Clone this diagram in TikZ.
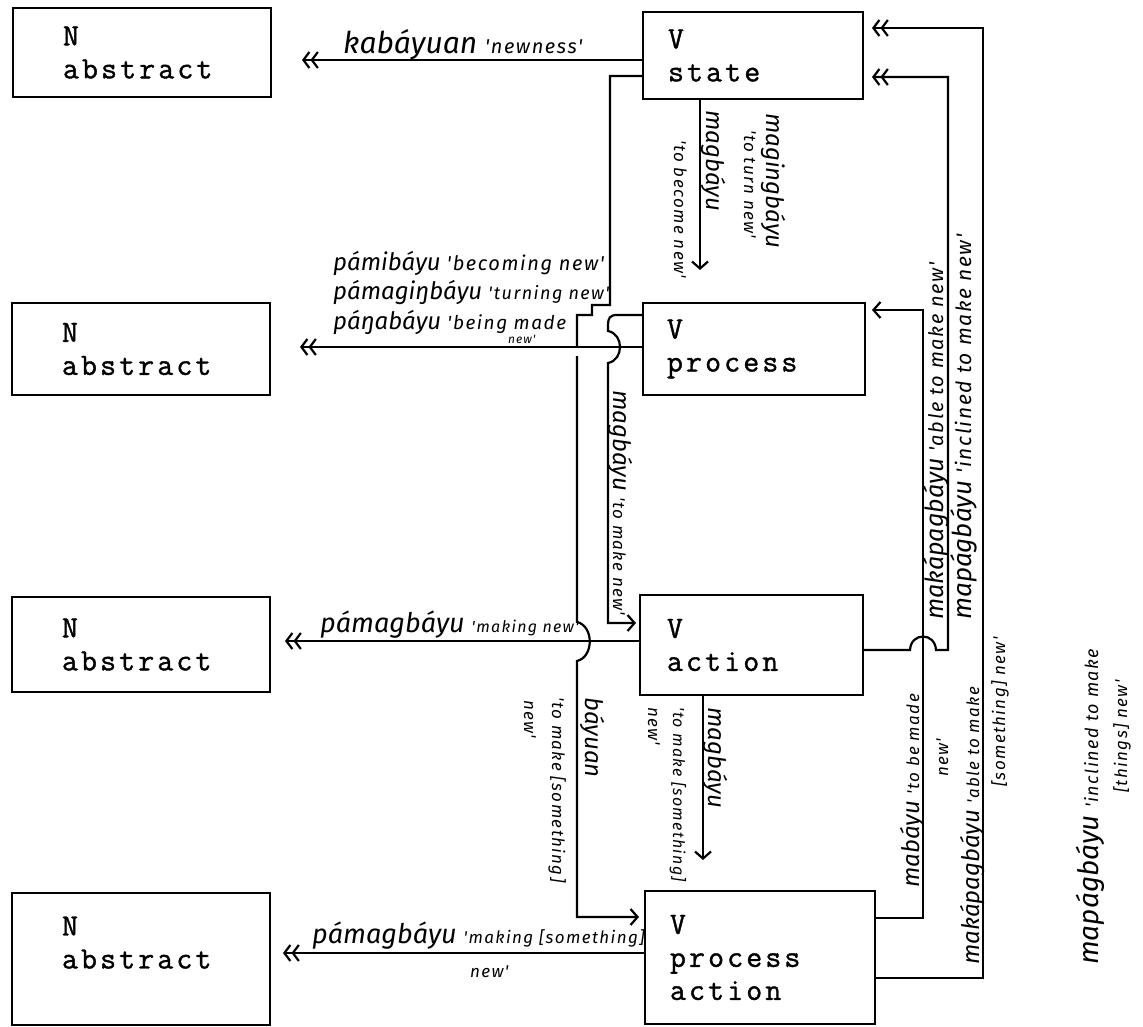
\documentclass[tikz,border=0pt]{standalone}
\usepackage{fontspec}
\usetikzlibrary{arrows.meta}
\newfontfamily\boxfont[LetterSpace=10,FakeBold=1.2]{Latin Modern Mono}
\newfontfamily\handfont{Fira Sans}
\newfontfamily\glossfont[LetterSpace=8]{Fira Sans}
\newcommand{\glosstxt}[2][17]{{\glossfont\itshape\fontsize{#1}{20}\selectfont #2}}

\begin{document}
\begin{tikzpicture}[x=1pt, y=-1pt,
    box/.style={draw, line width=2.2pt, align=left, inner sep=0pt, font=\boxfont\fontsize{31}{33}\selectfont},
    nbox/.style={box, minimum width=258pt, text width=158pt},
    conn/.style={line width=2.2pt},
    dbl/.style={-{Straight Barb[length=6pt,width=16pt] Straight Barb[length=6pt,width=16pt]}},
    sgl/.style={-{Straight Barb[length=7pt,width=16pt]}},
    hw/.style={font=\handfont\itshape\fontsize{24}{28}\selectfont, inner sep=0pt, anchor=base west},
    big/.style={font=\handfont\itshape\fontsize{30}{32}\selectfont},
    gl/.style={font=\glossfont\itshape\fontsize{17}{20}\selectfont, inner sep=0pt, anchor=base west}
]
\useasboundingbox (0,0) rectangle (1143,1027);

% boxes
\node[nbox, minimum height=89pt] (n1) at (142,52.5) {N\\abstract};
\node[nbox, minimum height=92pt] (n2) at (141,349) {N\\abstract};
\node[nbox, minimum height=95pt] (n3) at (141,644.5) {N\\abstract};
\node[nbox, minimum height=132pt] (n4) at (141,959) {N\\abstract\\\mbox{}};

\node[box, minimum width=220pt, minimum height=87pt, text width=170pt] (vs) at (753,55.5) {V\\state};
\node[box, minimum width=222pt, minimum height=92pt, text width=174pt] (vp) at (754,349) {V\\process};
\node[box, minimum width=223pt, minimum height=100pt, text width=169pt] (va) at (751.5,645) {V\\action};
\node[box, minimum width=230pt, minimum height=133pt, text width=180pt] (vpa) at (760,957.5) {V\\process\\action};

% arrow ends
\coordinate (kaEnd) at (302,60);
\coordinate (pnEnd) at (300,347);
\coordinate (anEnd) at (285,641);
\coordinate (paEnd) at (283,953);
\coordinate (spEnd) at (700,270);
\coordinate (apEnd) at (703,860);
\coordinate (mgEnd) at (636,623);
\coordinate (byEnd) at (639,917);
\coordinate (mbEnd) at (872,310);
\coordinate (saEnd) at (872,77);
\coordinate (spaEnd) at (872,28);

% to the N boxes
\draw[conn, dbl] (vs.west |- kaEnd) -- (kaEnd);
\draw[conn, dbl] (vp.west |- pnEnd) -- (pnEnd);
\draw[conn, dbl] (va.west |- anEnd) -- (anEnd);
\draw[conn, dbl] (vpa.west |- paEnd) -- (paEnd);

% down the middle
\draw[conn, sgl] (vs.south -| spEnd) -- (spEnd);
\draw[conn, sgl] (va.south -| apEnd) -- (apEnd);
\draw[conn, sgl] ([yshift=-20.5pt]vs.west) -- (610,76) -- (610,305) -- (592,305) -- (592,315) -- (577,315) -- (577,347)
    (577,356) -- (577,622) .. controls (594,626) and (594,657) .. (577,661) -- (577,917) -- (byEnd);
\draw[conn, sgl] ([yshift=34pt]vp.west) -- (617,315) .. controls (610,315) and (608,318) .. (608,325) -- (608,331)
    .. controls (624,334) and (624,360) .. (608,363) -- (608,623) -- (mgEnd);

% back up the right side
\draw[conn, sgl] ([yshift=39.5pt]vpa.east) -- (923,918) -- (923,310) -- (mbEnd);
\draw[conn, dbl] ([yshift=-5pt]va.east) -- (910,650) .. controls (911,632) and (935,632) .. (936,650) -- (948,650) -- (948,77) -- (saEnd);
\draw[conn, dbl] ([yshift=-20.5pt]vpa.east) -- (983,978) -- (983,28) -- (spaEnd);

% labels, left
\node[hw, big] (kaLbl) at (343,54) {kabáyuan \glosstxt[20]{'newness'}};
\node[hw] (pn1) at (333,270) {pámibáyu \glosstxt[20]{'becoming new'}};
\node[hw] (pn2) at (333,299) {pámagiŋbáyu \glosstxt[18]{'turning new'}};
\node[hw] (pn3) at (333,329) {páŋabáyu \glosstxt[19]{'being made}};
\node[gl, font=\glossfont\itshape\fontsize{12}{14}\selectfont] (pn4) at (508,343) {new'};
\node[hw, font=\handfont\itshape\fontsize{27}{30}\selectfont] (anLbl) at (320,632) {pámagbáyu \glosstxt[16]{'making new'}};
\node[hw, font=\handfont\itshape\fontsize{27}{30}\selectfont] (pa1) at (312,943) {pámagbáyu \glosstxt{'making [something]}};
\node[gl] (pa2) at (470,977) {new'};

% labels, middle (read downwards)
\node[hw, rotate=-90] (sp1) at (706,110) {magbáyu};
\node[gl, rotate=-90] (sp2) at (674,140) {'to become new'};
\node[hw, rotate=-90] (sp3) at (766,113) {magingbáyu};
\node[gl, rotate=-90] (sp4) at (744,130) {'to turn new'};
\node[hw, rotate=-90] (pvLbl) at (613,390) {magbáyu \glosstxt{'to make new'}};
\node[hw, rotate=-90] (by1) at (585,697) {báyuan};
\node[gl, rotate=-90] (by2) at (552,697) {'to make [something]};
\node[gl, rotate=-90] (by3) at (524,700) {new'};
\node[hw, rotate=-90] (ap1) at (708,707) {magbáyu};
\node[gl, rotate=-90, font=\glossfont\itshape\fontsize{16}{20}\selectfont] (ap2) at (673,707) {'to make [something]};
\node[gl, rotate=-90] (ap3) at (648,707) {new'};

% labels, right (read upwards)
\node[hw, rotate=90] (mb1) at (919,888) {mabáyu \glosstxt{'to be made}};
\node[gl, rotate=90] (mb2) at (948,777) {new'};
\node[hw, rotate=90, font=\handfont\itshape\fontsize{25}{28}\selectfont] (ka1) at (943,620) {makápagbáyu \glosstxt[20]{'able to make new'}};
\node[hw, rotate=90, font=\handfont\itshape\fontsize{26}{28}\selectfont] (ma1) at (971,620) {mapágbáyu \glosstxt[21]{'inclined to make new'}};
\node[hw, rotate=90] (ka2) at (979,965) {makápagbáyu \glosstxt{'able to make}};
\node[gl, rotate=90] (ka3) at (1005,787) {[something] new'};
\node[hw, rotate=90, font=\handfont\itshape\fontsize{28}{30}\selectfont] (ma2) at (1098,965) {mapágbáyu \glosstxt[18]{'inclined to make}};
\node[gl, rotate=90] (ma3) at (1127,793) {[things] new'};
\end{tikzpicture}
\end{document}
